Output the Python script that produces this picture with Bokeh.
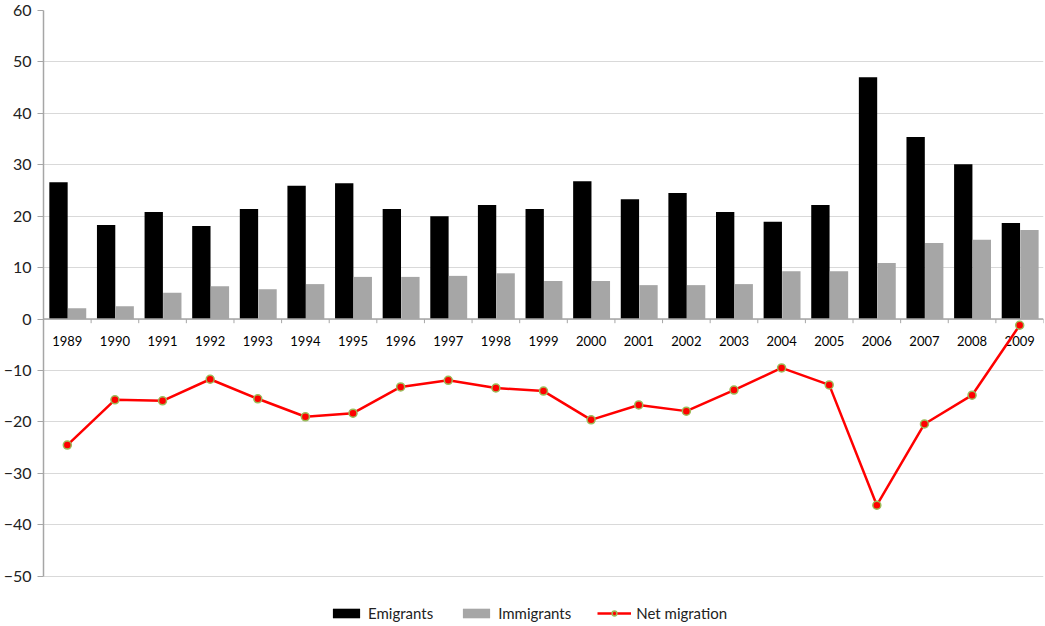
from bokeh.plotting import figure
from bokeh.models import (ColumnDataSource, FixedTicker, Span, Legend, LegendItem, Range1d)
from bokeh.core.properties import value
from bokeh.embed import file_html
from bokeh.resources import INLINE

years = ["1989", "1990", "1991", "1992", "1993", "1994", "1995", "1996", "1997", "1998", "1999",
         "2000", "2001", "2002", "2003", "2004", "2005", "2006", "2007", "2008", "2009"]
emigrants = [26.6, 18.3, 20.8, 18.1, 21.4, 25.9, 26.4, 21.4, 20.0, 22.2, 21.4,
             26.8, 23.3, 24.5, 20.8, 18.9, 22.2, 47.0, 35.4, 30.1, 18.7]
immigrants = [2.1, 2.5, 5.1, 6.4, 5.8, 6.8, 8.2, 8.2, 8.4, 8.9, 7.4,
              7.4, 6.6, 6.6, 6.8, 9.3, 9.3, 10.9, 14.8, 15.4, 17.3]
net_migration = [-24.5, -15.7, -15.9, -11.7, -15.5, -19.0, -18.3, -13.2, -11.9, -13.4, -14.0,
                 -19.6, -16.7, -17.9, -13.8, -9.5, -12.8, -36.2, -20.4, -14.8, -1.2]
y_ticks = [-50, -40, -30, -20, -10, 0, 10, 20, 30, 40, 50, 60]

FONT = "Lato"
n = len(years)
idx = list(range(n))
src = ColumnDataSource(dict(
    year=years,
    x_em=[i + 0.315 for i in idx],
    x_im=[i + 0.705 for i in idx],
    x_mid=[i + 0.5 for i in idx],
    em=emigrants, im=immigrants, net=net_migration,
    zero=[0] * n,
))
tick_src = ColumnDataSource(dict(x=list(range(n + 1)), y0=[0] * (n + 1), y1=[-0.8] * (n + 1)))

# frame extends below -50 to host the legend; axis/grid limited to -50..60
p = figure(frame_width=1000, frame_height=612, output_backend="svg", toolbar_location=None,
           x_range=Range1d(0, n), y_range=Range1d(-59, 60), x_axis_location=None,
           min_border_left=35, min_border_right=2, min_border_top=10, min_border_bottom=0)
p.outline_line_color = None
p.xgrid.visible = False
p.ygrid.grid_line_color = "#d9d9d9"
p.ygrid.grid_line_width = 1
p.yaxis.ticker = FixedTicker(ticks=y_ticks)
p.yaxis.bounds = (-50, 60)
p.yaxis.minor_tick_line_color = None
p.yaxis.major_tick_in = 0
p.yaxis.major_tick_out = 6
p.yaxis.major_tick_line_color = "#a6a6a6"
p.yaxis.axis_line_color = "#a6a6a6"
p.yaxis.axis_line_width = 1.5
p.yaxis.major_label_text_font = FONT
p.yaxis.major_label_text_font_size = "16px"
p.yaxis.major_label_text_color = "#222222"
p.yaxis.major_label_standoff = 6

r_em = p.vbar(x="x_em", top="em", width=0.385, bottom=0, source=src,
              fill_color="#000000", line_color=None)
r_im = p.vbar(x="x_im", top="im", width=0.385, bottom=0, source=src,
              fill_color="#a6a6a6", line_color=None)

p.add_layout(Span(location=0, dimension="width", line_color="#a6a6a6", line_width=1.5))
p.segment(x0="x", y0="y0", x1="x", y1="y1", source=tick_src, line_color="#a6a6a6", line_width=1)

p.text(x="x_mid", y="zero", text="year", source=src, text_align="center",
       text_baseline="middle", y_offset=22, text_font=value(FONT),
       text_font_size="13px", text_color="#000000")

r_line = p.line(x="x_mid", y="net", source=src, line_color="#ff0000", line_width=2.5)
r_pts = p.scatter(x="x_mid", y="net", source=src, size=8, fill_color="#ff0000",
                  line_color="#9bbb59", line_width=1.5)

legend = Legend(items=[
    LegendItem(label="Emigrants", renderers=[r_em]),
    LegendItem(label="Immigrants", renderers=[r_im]),
    LegendItem(label="Net migration", renderers=[r_line, r_pts]),
], orientation="horizontal", location=(286, 0), border_line_color=None,
    background_fill_alpha=0, label_text_font=FONT, label_text_font_size="15px",
    label_text_color="#222222", glyph_width=34, glyph_height=12, spacing=26,
    label_standoff=5, margin=0, padding=0)
p.add_layout(legend, "center")

open("out.html", "w").write(file_html(p, INLINE))
